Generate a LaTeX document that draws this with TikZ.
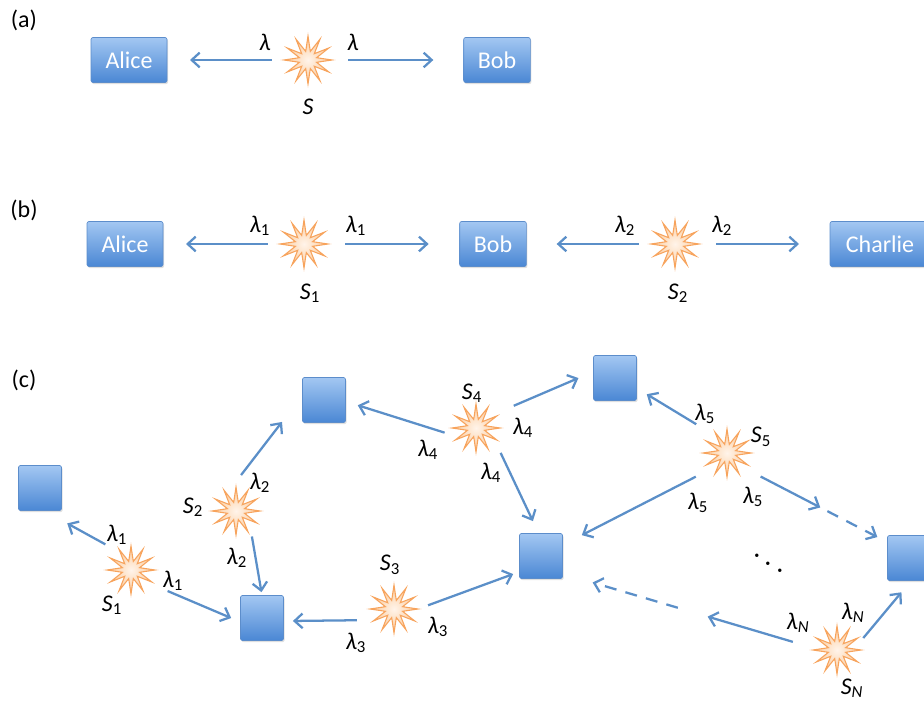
\documentclass[tikz,border=0pt]{standalone}
\usepackage{fontspec}
\setmainfont{Carlito}
\usepackage{tikz}
\usetikzlibrary{shapes,arrows.meta,shadows}

\definecolor{boxtop}{HTML}{A3C7F2}
\definecolor{boxbot}{HTML}{4A87D4}
\definecolor{boxline}{HTML}{5C8DCB}
\definecolor{linkblue}{HTML}{5B8FC8}
\definecolor{burstline}{HTML}{F7A35C}
\definecolor{burstin}{HTML}{FFF4EA}
\definecolor{burstout}{HTML}{FCC998}

\newcommand{\lam}[1]{\textit{λ}\textsubscript{#1}}
\newcommand{\src}[1]{\textit{S}\textsubscript{#1}}

\tikzset{
  party/.style={draw=boxline, line width=0.5pt, top color=boxtop, bottom color=boxbot,
    rounded corners=1.5pt, text=white, minimum height=33.75pt, inner sep=0pt,
    drop shadow={shadow xshift=0.8pt, shadow yshift=-1.2pt, opacity=0.25}},
  site/.style={party, minimum width=32.25pt},
  burst/.style={star, star points=12, star point ratio=2.7, minimum size=36pt, inner sep=0pt,
    draw=burstline, line width=0.8pt, inner color=burstin, outer color=burstout},
  source/.style={circle, minimum size=54pt, inner sep=0pt, label={[burst]center:{}}},
  link/.style={draw=linkblue, line width=1.7pt, -{Straight Barb[length=6pt, width=11pt]}},
  dashlink/.style={link, dash pattern=on 9pt off 7pt},
  dot/.style={inner sep=0pt},
}

\begin{document}
\begin{tikzpicture}[x=0.75pt, y=-0.75pt, font=\fontsize{18}{21}\selectfont]
            \useasboundingbox (0,0) rectangle (924,702) ;
            % (a) one source
            \draw node (taga) at (24,20) {(a)} ;
            \draw node[party, minimum width=57pt] (alicea) at (129,60) {Alice} ;
            \draw node[source] (sa) at (308,60) {} ;
            \draw node[party, minimum width=50pt] (boba) at (497,60) {Bob} ;
            \draw node (lal) at (265,42) {\textit{λ}} ;
            \draw node (lar) at (353,42) {\textit{λ}} ;
            \draw node (sal) at (308,107) {\textit{S}} ;
            \draw[link, shorten >=17pt] (sa) -- (alicea) ;
            \draw[link, shorten <=3pt, shorten >=22.5pt] (sa) -- (boba) ;

            % (b) two sources
            \draw node (tagb) at (24,210) {(b)} ;
            \draw node[party, minimum width=57pt] (aliceb) at (125,244) {Alice} ;
            \draw node[source] (sb1) at (304,244) {} ;
            \draw node[party, minimum width=50pt] (bobb) at (493,244) {Bob} ;
            \draw node[source] (sb2) at (675,244) {} ;
            \draw node[party, minimum width=75pt] (charlie) at (880,244) {Charlie} ;
            \draw node (lb1l) at (260,226) {\lam{1}} ;
            \draw node (lb1r) at (356,226) {\lam{1}} ;
            \draw node (sb1l) at (310,293) {\src{1}} ;
            \draw node (lb2l) at (625,226) {\lam{2}} ;
            \draw node (lb2r) at (722,226) {\lam{2}} ;
            \draw node (sb2l) at (678,293) {\src{2}} ;
            \draw[link, shorten >=17pt] (sb1) -- (aliceb) ;
            \draw[link, shorten <=3.75pt, shorten >=23pt] (sb1) -- (bobb) ;
            \draw[link, shorten >=22.5pt] (sb2) -- (bobb) ;
            \draw[link, shorten <=3.75pt, shorten >=23pt] (sb2) -- (charlie) ;

            % (c) network
            \draw node (tagc) at (24,380) {(c)} ;
            \draw node[site] (q1) at (40,488) {} ;
            \draw node[site] (q2) at (324,400) {} ;
            \draw node[site] (q3) at (262,618) {} ;
            \draw node[site] (q4) at (541,556) {} ;
            \draw node[site] (q5) at (615,378) {} ;
            \draw node[site] (q6) at (909,558) {} ;
            \draw node[source] (s1) at (131,570) {} ;
            \draw node[source] (s2) at (236,511) {} ;
            \draw node[source] (s3) at (394,609) {} ;
            \draw node[source] (s4) at (476,428) {} ;
            \draw node[source] (s5) at (727,453) {} ;
            \draw node[source] (sN) at (837,650) {} ;

            \draw node (l1a) at (117,535) {\lam{1}} ;
            \draw node (l1b) at (173,581) {\lam{1}} ;
            \draw node (s1l) at (112,605) {\src{1}} ;
            \draw node (s2l) at (193,507) {\src{2}} ;
            \draw node (l2a) at (260,483) {\lam{2}} ;
            \draw node (l2b) at (237,558) {\lam{2}} ;
            \draw node (s3l) at (390,565) {\src{3}} ;
            \draw node (l3a) at (356,643) {\lam{3}} ;
            \draw node (l3b) at (438,627) {\lam{3}} ;
            \draw node (s4l) at (472,393) {\src{4}} ;
            \draw node (l4a) at (428,450) {\lam{4}} ;
            \draw node (l4b) at (523,428) {\lam{4}} ;
            \draw node (l4c) at (491,473) {\lam{4}} ;
            \draw node (l5a) at (705,414) {\lam{5}} ;
            \draw node (s5l) at (761,437) {\src{5}} ;
            \draw node (l5b) at (698,503) {\lam{5}} ;
            \draw node (l5c) at (753,497) {\lam{5}} ;
            \draw node (lNa) at (798,623) {\lam{\textit{N}}} ;
            \draw node (lNb) at (853,613) {\lam{\textit{N}}} ;
            \draw node (sNl) at (852,688) {\src{\textit{N}}} ;
            \draw node[dot] (dot1) at (757,558) {\textperiodcentered} ;
            \draw node[dot] (dot2) at (768,566) {\textperiodcentered} ;
            \draw node[dot] (dot3) at (780,573) {\textperiodcentered} ;

            \draw[link, shorten >=19.5pt] (s1.135) -- (q1.-79) ;
            \draw[link, shorten <=4.5pt, shorten >=7.3pt] (s1.-31) -- (q3.190) ;
            \draw[link, shorten >=24.8pt] (s2.82) -- (q2.169) ;
            \draw[link, shorten <=-5pt, shorten >=2.3pt] (s2.-62) -- (q3.90) ;
            \draw[link, shorten <=2pt, shorten >=6.8pt] (s3.198) -- (q3.-8) ;
            \draw[link, shorten <=-1.5pt, shorten >=4.8pt] (s3.7) -- (q4.216) ;
            \draw[link, shorten <=-3.75pt, shorten >=9.4pt] (s4.185) -- (q2.-4) ;
            \draw[link, shorten <=5.7pt, shorten >=12pt] (s4.32) -- (q5.164) ;
            \draw[link, shorten <=-1pt, shorten >=10pt] (s4.-46) -- (q4.96) ;
            \draw[link, shorten <=4.5pt, shorten >=8.7pt] (s5.135) -- (q5.-25) ;
            \draw[link, shorten <=2.25pt, shorten >=16pt] (s5.218) -- (q4.27) ;
            \draw[link, shorten <=3.6pt, shorten >=56.5pt] (s5.-36) -- (q6.144) ;
            \draw[dashlink, shorten <=60pt, shorten >=8.3pt] (s5.-36) -- (q6.144) ;
            \draw[link, shorten <=6.5pt, shorten >=113.3pt] (sN.171) -- (q4.-39) ;
            \draw[dashlink, shorten <=96.5pt, shorten >=23.3pt] (sN.171) -- (q4.-39) ;
            \draw[link, shorten <=-6pt, shorten >=11.2pt] (sN.30) -- (q6.-85) ;
        \end{tikzpicture}
\end{document}
